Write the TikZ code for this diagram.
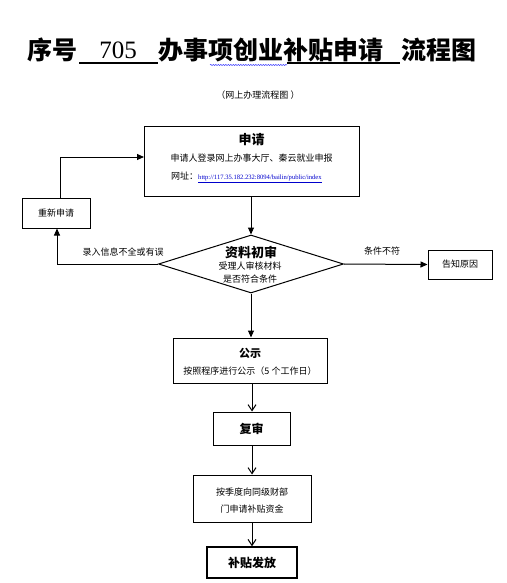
\documentclass[tikz,border=0pt]{standalone}
\usepackage{fontspec}
\setmainfont{Noto Sans CJK SC}
\newfontfamily\serifpart{Liberation Serif}
\usetikzlibrary{arrows.meta,shapes.geometric,decorations.pathmorphing}
\begin{document}
\begin{tikzpicture}[x=1pt,y=-1pt,
  boxst/.style={draw,line width=1pt,rectangle,inner sep=0pt},
  txt/.style={inner sep=0pt,font=\fontsize{9}{9}\selectfont},
  btxt/.style={inner sep=0pt,font=\fontsize{13}{13}\selectfont\bfseries},
  farr/.style={line width=1pt,-{Triangle[length=7pt,width=6pt]}},
  varr/.style={line width=1pt,-{Straight Barb[length=6pt,width=8pt]}},
  ttl/.style={inner sep=0pt,anchor=west,font=\fontsize{25}{25}\selectfont\bfseries}]
\useasboundingbox (0,0) rectangle (506,583);
% title
\node[ttl] (t1) at (27,50) {序号};
\node[inner sep=0pt,font=\fontsize{25}{25}\serifpart] (t2) at (118,50) {705};
\node[ttl] (t3) at (158,50) {办事项创业补贴申请};
\node[ttl] (t4) at (401,50) {流程图};
\draw[line width=1.2pt] (79,63) -- (158,63);
\draw[line width=1.2pt] (287,63) -- (400,63);
\draw[blue!80,line width=0.5pt,decorate,decoration={snake,amplitude=0.6pt,segment length=2.5pt}] (210,65) -- (287,65);
\node[inner sep=0pt,font=\fontsize{9}{9}\selectfont] (sub) at (258,95) {（网上办理流程图 ）};
% apply box
\node[boxst,minimum width=215pt,minimum height=70pt] (apply) at (251.5,161) {};
\node[btxt] (applyt) at (251.5,140) {申请};
\node[txt] (applyl2) at (251.5,158) {申请人登录网上办事大厅、秦云就业申报};
\node[inner sep=0pt,anchor=west] (applyl3) at (171,177) {\fontsize{9}{9}\selectfont 网址：{\serifpart\fontsize{6.6}{7}\selectfont\color{blue!80!black}\underline{http://117.35.182.232:8094/bailin/public/index}}};
% retry box
\node[boxst,minimum width=68pt,minimum height=30pt] (retry) at (56,213) {};
\node[txt] (retryt) at (56,213) {重新申请};
% diamond
\node[draw,diamond,line width=1pt,minimum width=185pt,minimum height=58pt,inner sep=0pt] (dia) at (251,264) {};
\node[btxt] (diat) at (251,252) {资料初审};
\node[txt] (dial2) at (250,266) {受理人审核材料};
\node[txt] (dial3) at (250,279) {是否符合条件};
% notify box
\node[boxst,minimum width=64pt,minimum height=29pt] (notify) at (460,264.5) {};
\node[txt] (notifyt) at (460,264.5) {告知原因};
% publicity
\node[boxst,minimum width=154pt,minimum height=45pt] (pub) at (250,360.5) {};
\node[btxt,font=\fontsize{11}{11}\selectfont\bfseries] (pubt) at (250,353) {公示};
\node[txt] (publ2) at (250,371) {按照程序进行公示（5 个工作日）};
% review
\node[boxst,minimum width=77pt,minimum height=33pt] (rev) at (251.5,428.5) {};
\node[btxt,font=\fontsize{12}{12}\selectfont\bfseries] (revt) at (251.5,428.5) {复审};
% funds
\node[boxst,minimum width=118pt,minimum height=47pt] (fund) at (252,498.5) {};
\node[txt] (fundl1) at (252,492) {按季度向同级财部};
\node[txt] (fundl2) at (252,509) {门申请补贴资金};
% issue
\node[boxst,line width=1.5pt,minimum width=90pt,minimum height=31pt] (issue) at (252,562.5) {};
\node[btxt,font=\fontsize{12}{12}\selectfont\bfseries] (issuet) at (252,562.5) {补贴发放};
% connectors
\coordinate (applyin) at (144,157);
\draw[farr] (apply.south -| dia.north) -- (dia.north);
\draw[farr] (retry.north -| 60,0) |- (applyin);
\draw[farr] (dia.west) -| (57,0 |- retry.south);
\node[txt] (lab1) at (123,252) {录入信息不全或有误};
\draw[farr] (dia.east) -- (notify.west);
\node[txt] (lab2) at (382,251) {条件不符};
\draw[farr] (dia.south) -- (dia.south |- pub.north);
\draw[varr] (pub.south -| 252,0) -- (rev.north -| 252,0);
\draw[varr] (rev.south -| 252,0) -- (fund.north);
\draw[varr] (fund.south) -- (issue.north);
\end{tikzpicture}
\end{document}
